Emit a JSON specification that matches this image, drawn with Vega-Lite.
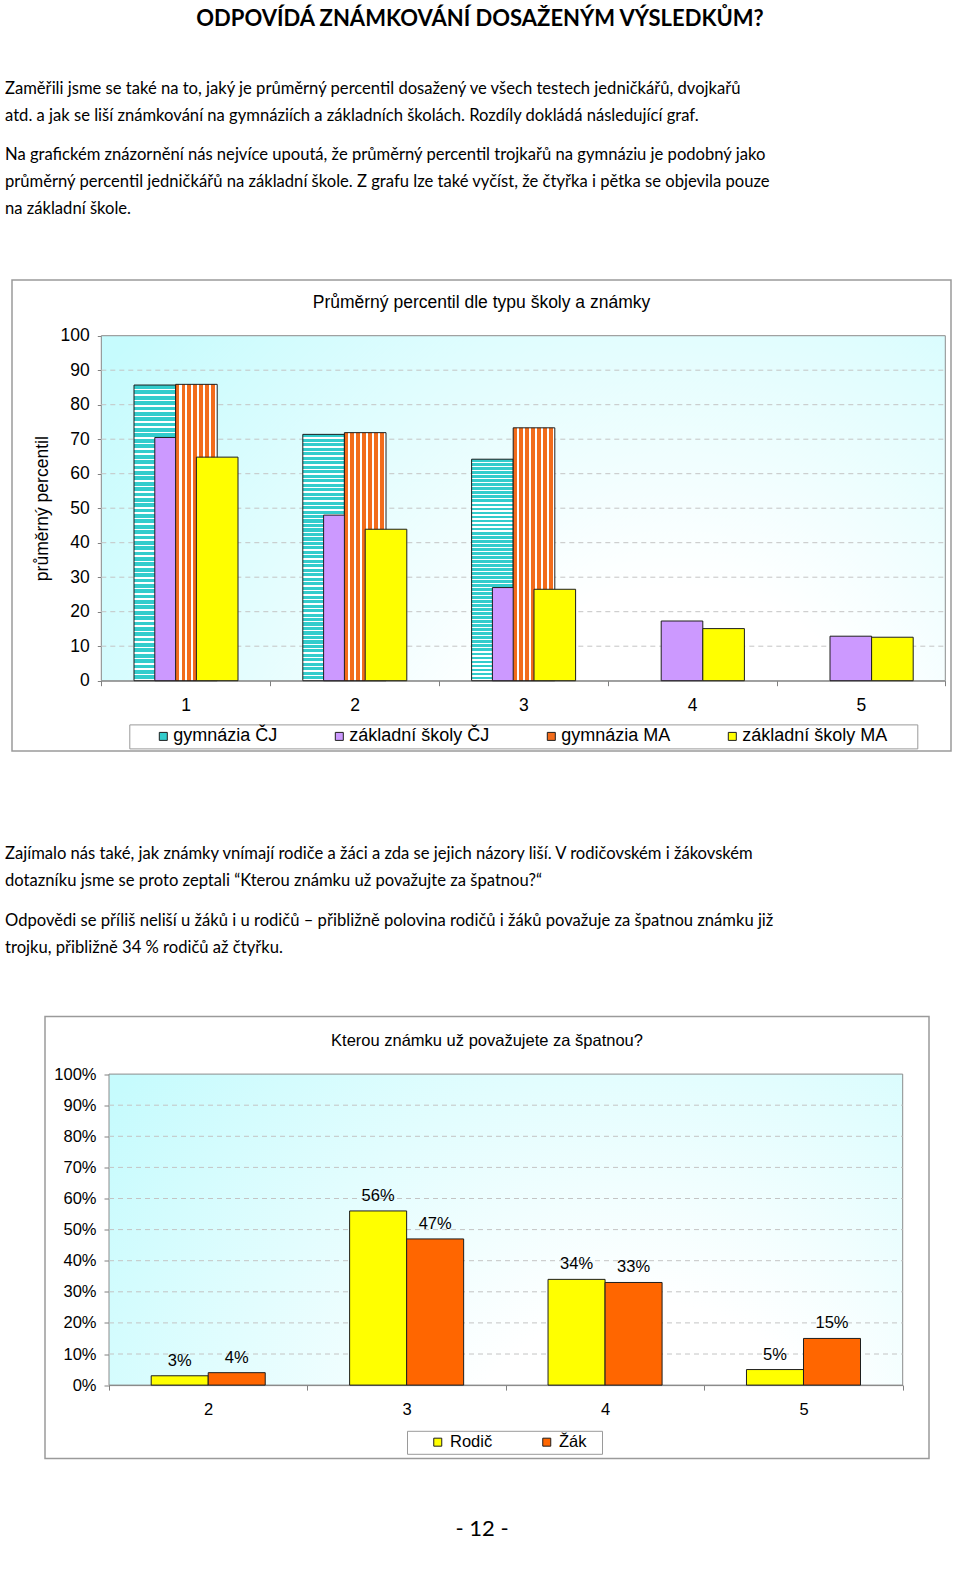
{
"$schema": "https://vega.github.io/schema/vega-lite/v6.json",
"background": "white",
"padding": {"left": 0, "right": 0, "top": 8, "bottom": 0},
"title": {"text": "ODPOVÍDÁ ZNÁMKOVÁNÍ DOSAŽENÝM VÝSLEDKŮM?", "font": "Lato", "fontSize": 22, "fontWeight": "bold", "color": "#000000", "anchor": "middle", "baseline": "top", "offset": 44},
"spacing": 12.5,
"resolve": {"scale": {"x": "independent", "y": "independent", "xOffset": "independent", "color": "independent"}, "axis": {"x": "independent", "y": "independent"}, "legend": {"color": "independent"}},
"vconcat": [
{"width": 960, "height": 54,
 "data": {"values": [
  {"i": 1, "t": "Zaměřili jsme se také na to, jaký je průměrný percentil dosažený ve všech testech jedničkářů, dvojkařů"},
  {"i": 2, "t": "atd. a jak se liší známkování na gymnáziích a základních školách. Rozdíly dokládá následující graf."}]},
 "mark": {"type": "text", "align": "left", "baseline": "middle", "font": "Lato", "fontSize": 16.6, "color": "#000000", "dx": 5},
 "encoding": {
  "x": {"datum": 0, "type": "quantitative", "scale": {"domain": [0, 1]}, "axis": null},
  "y": {"field": "i", "type": "ordinal", "axis": null, "scale": {"type": "band", "paddingInner": 0, "paddingOuter": 0, "align": 0}},
  "text": {"field": "t"}}},
{"width": 960, "height": 125,
 "data": {"values": [
  {"i": 1, "t": "Na grafickém znázornění nás nejvíce upoutá, že průměrný percentil trojkařů na gymnáziu je podobný jako"},
  {"i": 2, "t": "průměrný percentil jedničkářů na základní škole.  Z grafu lze také vyčíst, že čtyřka i pětka se objevila pouze"},
  {"i": 3, "t": "na základní škole."}]},
 "mark": {"type": "text", "align": "left", "baseline": "middle", "font": "Lato", "fontSize": 16.6, "color": "#000000", "dx": 5},
 "encoding": {
  "x": {"datum": 0, "type": "quantitative", "scale": {"domain": [0, 1]}, "axis": null},
  "y": {"field": "i", "type": "ordinal", "axis": null, "scale": {"type": "band", "paddingInner": 0, "paddingOuter": 0.8148, "align": 0}},
  "text": {"field": "t"}}},
{"spacing": 0, "bounds": "flush",
 "hconcat": [
  {"width": 11.7, "height": 548, "data": {"values": []}, "mark": "rect"},
  {"width": 939, "height": 471,
   "view": {"stroke": "#9a9a9a", "strokeWidth": 1.5},
   "title": {"text": "Průměrný percentil dle typu školy a známky", "font": "Liberation Sans", "fontSize": 17.5, "fontWeight": "normal", "color": "#000000", "anchor": "middle", "baseline": "middle", "offset": -40},
   "data": {"values": [
    {"g": 1, "s": "gymnázia ČJ", "v": 85.7}, {"g": 1, "s": "základní školy ČJ", "v": 70.5}, {"g": 1, "s": "gymnázia MA", "v": 85.9}, {"g": 1, "s": "základní školy MA", "v": 64.8},
    {"g": 2, "s": "gymnázia ČJ", "v": 71.4}, {"g": 2, "s": "základní školy ČJ", "v": 48.0}, {"g": 2, "s": "gymnázia MA", "v": 71.9}, {"g": 2, "s": "základní školy MA", "v": 43.9},
    {"g": 3, "s": "gymnázia ČJ", "v": 64.2}, {"g": 3, "s": "základní školy ČJ", "v": 27.0}, {"g": 3, "s": "gymnázia MA", "v": 73.3}, {"g": 3, "s": "základní školy MA", "v": 26.5},
    {"g": 4, "s": "základní školy ČJ", "v": 17.3}, {"g": 4, "s": "základní školy MA", "v": 15.1},
    {"g": 5, "s": "základní školy ČJ", "v": 12.9}, {"g": 5, "s": "základní školy MA", "v": 12.6}]},
   "layer": [
    {"data": {"values": [{}]},
     "mark": {"type": "rect", "stroke": "#8c8c8c", "strokeWidth": 1,
      "fill": {"gradient": "radial", "x1": 0.68, "y1": 0.85, "r1": 0, "x2": 0.68, "y2": 0.85, "r2": 0.85, "stops": [{"offset": 0, "color": "#ffffff"}, {"offset": 0.3, "color": "#ffffff"}, {"offset": 1, "color": "#c6fbfd"}]}},
     "encoding": {
      "x": {"datum": 0, "type": "quantitative", "scale": {"domain": [0, 1], "range": [89.3, 933.3]}, "axis": null},
      "x2": {"datum": 1},
      "y": {"datum": 0, "type": "quantitative", "scale": {"domain": [0, 100], "range": [400.7, 55.7], "nice": false},
       "axis": {"title": "průměrný percentil", "orient": "left", "offset": -89.3, "values": [0, 10, 20, 30, 40, 50, 60, 70, 80, 90, 100], "grid": false, "tickSize": 4, "tickColor": "#808080", "domainColor": "#808080", "labelFont": "Liberation Sans", "labelFontSize": 17.5, "labelColor": "#000000", "labelPadding": 8, "titleFont": "Liberation Sans", "titleFontSize": 17.5, "titleFontWeight": "normal", "titleColor": "#000000", "titlePadding": 9}},
      "y2": {"datum": 100}}},
    {"data": {"values": [{"t": 10}, {"t": 20}, {"t": 30}, {"t": 40}, {"t": 50}, {"t": 60}, {"t": 70}, {"t": 80}, {"t": 90}]},
     "mark": {"type": "rule", "color": "#c4c4c4", "strokeDash": [5, 4], "strokeWidth": 1},
     "encoding": {
      "x": {"datum": 0, "type": "quantitative", "scale": {"domain": [0, 1], "range": [89.3, 933.3]}, "axis": null},
      "x2": {"datum": 1},
      "y": {"field": "t", "type": "quantitative", "scale": {"domain": [0, 100], "range": [400.7, 55.7], "nice": false},
       "axis": {"title": "průměrný percentil", "orient": "left", "offset": -89.3, "values": [0, 10, 20, 30, 40, 50, 60, 70, 80, 90, 100], "grid": false, "tickSize": 4, "tickColor": "#808080", "domainColor": "#808080", "labelFont": "Liberation Sans", "labelFontSize": 17.5, "labelColor": "#000000", "labelPadding": 8, "titleFont": "Liberation Sans", "titleFontSize": 17.5, "titleFontWeight": "normal", "titleColor": "#000000", "titlePadding": 9}}}},
    {"encoding": {
      "x": {"field": "g", "type": "ordinal", "scale": {"domain": [1, 2, 3, 4, 5], "range": [89.3, 933.3], "paddingInner": 0, "paddingOuter": 0},
       "axis": {"title": null, "orient": "bottom", "offset": -70.3, "labelAngle": 0, "tickBand": "extent", "tickSize": 5, "tickColor": "#808080", "domainColor": "#808080", "labelFont": "Liberation Sans", "labelFontSize": 17.5, "labelColor": "#000000", "labelPadding": 11, "grid": false}},
      "xOffset": {"field": "s", "type": "nominal", "scale": {"domain": ["gymnázia ČJ", "základní školy ČJ", "gymnázia MA", "základní školy MA"], "range": [43.1, 126.3], "paddingInner": 0, "paddingOuter": 0}},
      "y": {"field": "v", "type": "quantitative", "stack": null, "scale": {"domain": [0, 100], "range": [400.7, 55.7], "nice": false},
       "axis": {"title": "průměrný percentil", "orient": "left", "offset": -89.3, "values": [0, 10, 20, 30, 40, 50, 60, 70, 80, 90, 100], "grid": false, "tickSize": 4, "tickColor": "#808080", "domainColor": "#808080", "labelFont": "Liberation Sans", "labelFontSize": 17.5, "labelColor": "#000000", "labelPadding": 8, "titleFont": "Liberation Sans", "titleFontSize": 17.5, "titleFontWeight": "normal", "titleColor": "#000000", "titlePadding": 9}}},
     "layer": [
      {"transform": [{"filter": {"field": "s", "equal": "gymnázia ČJ"}}],
       "mark": {"type": "bar", "width": 41.6, "stroke": "#1e1e1e", "strokeWidth": 1,
        "fill": {"gradient": "linear", "x1": 0, "y1": 0, "x2": 0, "y2": 1, "stops": [
{"offset":0,"color":"#33cccc"},{"offset":0.0127,"color":"#33cccc"},{"offset":0.0127,"color":"#ffffff"},{"offset":0.0182,"color":"#ffffff"},
{"offset":0.0182,"color":"#33cccc"},{"offset":0.0309,"color":"#33cccc"},{"offset":0.0309,"color":"#ffffff"},{"offset":0.0364,"color":"#ffffff"},
{"offset":0.0364,"color":"#33cccc"},{"offset":0.0491,"color":"#33cccc"},{"offset":0.0491,"color":"#ffffff"},{"offset":0.0545,"color":"#ffffff"},
{"offset":0.0545,"color":"#33cccc"},{"offset":0.0673,"color":"#33cccc"},{"offset":0.0673,"color":"#ffffff"},{"offset":0.0727,"color":"#ffffff"},
{"offset":0.0727,"color":"#33cccc"},{"offset":0.0855,"color":"#33cccc"},{"offset":0.0855,"color":"#ffffff"},{"offset":0.0909,"color":"#ffffff"},
{"offset":0.0909,"color":"#33cccc"},{"offset":0.1036,"color":"#33cccc"},{"offset":0.1036,"color":"#ffffff"},{"offset":0.1091,"color":"#ffffff"},
{"offset":0.1091,"color":"#33cccc"},{"offset":0.1218,"color":"#33cccc"},{"offset":0.1218,"color":"#ffffff"},{"offset":0.1273,"color":"#ffffff"},
{"offset":0.1273,"color":"#33cccc"},{"offset":0.14,"color":"#33cccc"},{"offset":0.14,"color":"#ffffff"},{"offset":0.1455,"color":"#ffffff"},
{"offset":0.1455,"color":"#33cccc"},{"offset":0.1582,"color":"#33cccc"},{"offset":0.1582,"color":"#ffffff"},{"offset":0.1636,"color":"#ffffff"},
{"offset":0.1636,"color":"#33cccc"},{"offset":0.1764,"color":"#33cccc"},{"offset":0.1764,"color":"#ffffff"},{"offset":0.1818,"color":"#ffffff"},
{"offset":0.1818,"color":"#33cccc"},{"offset":0.1945,"color":"#33cccc"},{"offset":0.1945,"color":"#ffffff"},{"offset":0.2,"color":"#ffffff"},
{"offset":0.2,"color":"#33cccc"},{"offset":0.2127,"color":"#33cccc"},{"offset":0.2127,"color":"#ffffff"},{"offset":0.2182,"color":"#ffffff"},
{"offset":0.2182,"color":"#33cccc"},{"offset":0.2309,"color":"#33cccc"},{"offset":0.2309,"color":"#ffffff"},{"offset":0.2364,"color":"#ffffff"},
{"offset":0.2364,"color":"#33cccc"},{"offset":0.2491,"color":"#33cccc"},{"offset":0.2491,"color":"#ffffff"},{"offset":0.2545,"color":"#ffffff"},
{"offset":0.2545,"color":"#33cccc"},{"offset":0.2673,"color":"#33cccc"},{"offset":0.2673,"color":"#ffffff"},{"offset":0.2727,"color":"#ffffff"},
{"offset":0.2727,"color":"#33cccc"},{"offset":0.2855,"color":"#33cccc"},{"offset":0.2855,"color":"#ffffff"},{"offset":0.2909,"color":"#ffffff"},
{"offset":0.2909,"color":"#33cccc"},{"offset":0.3036,"color":"#33cccc"},{"offset":0.3036,"color":"#ffffff"},{"offset":0.3091,"color":"#ffffff"},
{"offset":0.3091,"color":"#33cccc"},{"offset":0.3218,"color":"#33cccc"},{"offset":0.3218,"color":"#ffffff"},{"offset":0.3273,"color":"#ffffff"},
{"offset":0.3273,"color":"#33cccc"},{"offset":0.34,"color":"#33cccc"},{"offset":0.34,"color":"#ffffff"},{"offset":0.3455,"color":"#ffffff"},
{"offset":0.3455,"color":"#33cccc"},{"offset":0.3582,"color":"#33cccc"},{"offset":0.3582,"color":"#ffffff"},{"offset":0.3636,"color":"#ffffff"},
{"offset":0.3636,"color":"#33cccc"},{"offset":0.3764,"color":"#33cccc"},{"offset":0.3764,"color":"#ffffff"},{"offset":0.3818,"color":"#ffffff"},
{"offset":0.3818,"color":"#33cccc"},{"offset":0.3945,"color":"#33cccc"},{"offset":0.3945,"color":"#ffffff"},{"offset":0.4,"color":"#ffffff"},
{"offset":0.4,"color":"#33cccc"},{"offset":0.4127,"color":"#33cccc"},{"offset":0.4127,"color":"#ffffff"},{"offset":0.4182,"color":"#ffffff"},
{"offset":0.4182,"color":"#33cccc"},{"offset":0.4309,"color":"#33cccc"},{"offset":0.4309,"color":"#ffffff"},{"offset":0.4364,"color":"#ffffff"},
{"offset":0.4364,"color":"#33cccc"},{"offset":0.4491,"color":"#33cccc"},{"offset":0.4491,"color":"#ffffff"},{"offset":0.4545,"color":"#ffffff"},
{"offset":0.4545,"color":"#33cccc"},{"offset":0.4673,"color":"#33cccc"},{"offset":0.4673,"color":"#ffffff"},{"offset":0.4727,"color":"#ffffff"},
{"offset":0.4727,"color":"#33cccc"},{"offset":0.4855,"color":"#33cccc"},{"offset":0.4855,"color":"#ffffff"},{"offset":0.4909,"color":"#ffffff"},
{"offset":0.4909,"color":"#33cccc"},{"offset":0.5036,"color":"#33cccc"},{"offset":0.5036,"color":"#ffffff"},{"offset":0.5091,"color":"#ffffff"},
{"offset":0.5091,"color":"#33cccc"},{"offset":0.5218,"color":"#33cccc"},{"offset":0.5218,"color":"#ffffff"},{"offset":0.5273,"color":"#ffffff"},
{"offset":0.5273,"color":"#33cccc"},{"offset":0.54,"color":"#33cccc"},{"offset":0.54,"color":"#ffffff"},{"offset":0.5455,"color":"#ffffff"},
{"offset":0.5455,"color":"#33cccc"},{"offset":0.5582,"color":"#33cccc"},{"offset":0.5582,"color":"#ffffff"},{"offset":0.5636,"color":"#ffffff"},
{"offset":0.5636,"color":"#33cccc"},{"offset":0.5764,"color":"#33cccc"},{"offset":0.5764,"color":"#ffffff"},{"offset":0.5818,"color":"#ffffff"},
{"offset":0.5818,"color":"#33cccc"},{"offset":0.5945,"color":"#33cccc"},{"offset":0.5945,"color":"#ffffff"},{"offset":0.6,"color":"#ffffff"},
{"offset":0.6,"color":"#33cccc"},{"offset":0.6127,"color":"#33cccc"},{"offset":0.6127,"color":"#ffffff"},{"offset":0.6182,"color":"#ffffff"},
{"offset":0.6182,"color":"#33cccc"},{"offset":0.6309,"color":"#33cccc"},{"offset":0.6309,"color":"#ffffff"},{"offset":0.6364,"color":"#ffffff"},
{"offset":0.6364,"color":"#33cccc"},{"offset":0.6491,"color":"#33cccc"},{"offset":0.6491,"color":"#ffffff"},{"offset":0.6545,"color":"#ffffff"},
{"offset":0.6545,"color":"#33cccc"},{"offset":0.6673,"color":"#33cccc"},{"offset":0.6673,"color":"#ffffff"},{"offset":0.6727,"color":"#ffffff"},
{"offset":0.6727,"color":"#33cccc"},{"offset":0.6855,"color":"#33cccc"},{"offset":0.6855,"color":"#ffffff"},{"offset":0.6909,"color":"#ffffff"},
{"offset":0.6909,"color":"#33cccc"},{"offset":0.7036,"color":"#33cccc"},{"offset":0.7036,"color":"#ffffff"},{"offset":0.7091,"color":"#ffffff"},
{"offset":0.7091,"color":"#33cccc"},{"offset":0.7218,"color":"#33cccc"},{"offset":0.7218,"color":"#ffffff"},{"offset":0.7273,"color":"#ffffff"},
{"offset":0.7273,"color":"#33cccc"},{"offset":0.74,"color":"#33cccc"},{"offset":0.74,"color":"#ffffff"},{"offset":0.7455,"color":"#ffffff"},
{"offset":0.7455,"color":"#33cccc"},{"offset":0.7582,"color":"#33cccc"},{"offset":0.7582,"color":"#ffffff"},{"offset":0.7636,"color":"#ffffff"},
{"offset":0.7636,"color":"#33cccc"},{"offset":0.7764,"color":"#33cccc"},{"offset":0.7764,"color":"#ffffff"},{"offset":0.7818,"color":"#ffffff"},
{"offset":0.7818,"color":"#33cccc"},{"offset":0.7945,"color":"#33cccc"},{"offset":0.7945,"color":"#ffffff"},{"offset":0.8,"color":"#ffffff"},
{"offset":0.8,"color":"#33cccc"},{"offset":0.8127,"color":"#33cccc"},{"offset":0.8127,"color":"#ffffff"},{"offset":0.8182,"color":"#ffffff"},
{"offset":0.8182,"color":"#33cccc"},{"offset":0.8309,"color":"#33cccc"},{"offset":0.8309,"color":"#ffffff"},{"offset":0.8364,"color":"#ffffff"},
{"offset":0.8364,"color":"#33cccc"},{"offset":0.8491,"color":"#33cccc"},{"offset":0.8491,"color":"#ffffff"},{"offset":0.8545,"color":"#ffffff"},
{"offset":0.8545,"color":"#33cccc"},{"offset":0.8673,"color":"#33cccc"},{"offset":0.8673,"color":"#ffffff"},{"offset":0.8727,"color":"#ffffff"},
{"offset":0.8727,"color":"#33cccc"},{"offset":0.8855,"color":"#33cccc"},{"offset":0.8855,"color":"#ffffff"},{"offset":0.8909,"color":"#ffffff"},
{"offset":0.8909,"color":"#33cccc"},{"offset":0.9036,"color":"#33cccc"},{"offset":0.9036,"color":"#ffffff"},{"offset":0.9091,"color":"#ffffff"},
{"offset":0.9091,"color":"#33cccc"},{"offset":0.9218,"color":"#33cccc"},{"offset":0.9218,"color":"#ffffff"},{"offset":0.9273,"color":"#ffffff"},
{"offset":0.9273,"color":"#33cccc"},{"offset":0.94,"color":"#33cccc"},{"offset":0.94,"color":"#ffffff"},{"offset":0.9455,"color":"#ffffff"},
{"offset":0.9455,"color":"#33cccc"},{"offset":0.9582,"color":"#33cccc"},{"offset":0.9582,"color":"#ffffff"},{"offset":0.9636,"color":"#ffffff"},
{"offset":0.9636,"color":"#33cccc"},{"offset":0.9764,"color":"#33cccc"},{"offset":0.9764,"color":"#ffffff"},{"offset":0.9818,"color":"#ffffff"},
{"offset":0.9818,"color":"#33cccc"},{"offset":0.9945,"color":"#33cccc"},{"offset":0.9945,"color":"#ffffff"},{"offset":1,"color":"#ffffff"}
        ]}}},
      {"transform": [{"filter": {"field": "s", "equal": "základní školy ČJ"}}],
       "mark": {"type": "bar", "width": 41.6, "stroke": "#1e1e1e", "strokeWidth": 1},
       "encoding": {"color": {"field": "s", "type": "nominal",
        "scale": {"domain": ["gymnázia ČJ", "základní školy ČJ", "gymnázia MA", "základní školy MA"], "range": ["#33cccc", "#cc99ff", "#f26c1c", "#ffff00"]},
        "legend": {"orient": "none", "legendX": 129.3, "legendY": 444.4, "direction": "horizontal", "title": "\u00a0", "titleOrient": "left", "titlePadding": 22, "symbolType": "square", "symbolSize": 64, "symbolStrokeColor": "#1e1e1e", "symbolStrokeWidth": 1, "symbolOpacity": 1, "labelFont": "Liberation Sans", "labelFontSize": 18, "labelColor": "#000000", "labelOffset": 1, "labelLimit": 300, "columnPadding": 52, "padding": 3, "strokeColor": "#9a9a9a", "fillColor": "#ffffff", "labelExpr": "datum.value == 'základní školy MA' ? datum.label + '\u2800\u2800' : datum.label"}}}},
      {"transform": [{"filter": {"field": "s", "equal": "gymnázia MA"}}],
       "mark": {"type": "bar", "width": 41.6, "stroke": "#1e1e1e", "strokeWidth": 1,
        "fill": {"gradient": "linear", "x1": 0, "y1": 0, "x2": 1, "y2": 0, "stops": [
{"offset":0,"color":"#f26c1c"},{"offset":0.0886,"color":"#f26c1c"},{"offset":0.0886,"color":"#ffffff"},{"offset":0.1429,"color":"#ffffff"},
{"offset":0.1429,"color":"#f26c1c"},{"offset":0.2314,"color":"#f26c1c"},{"offset":0.2314,"color":"#ffffff"},{"offset":0.2857,"color":"#ffffff"},
{"offset":0.2857,"color":"#f26c1c"},{"offset":0.3743,"color":"#f26c1c"},{"offset":0.3743,"color":"#ffffff"},{"offset":0.4286,"color":"#ffffff"},
{"offset":0.4286,"color":"#f26c1c"},{"offset":0.5171,"color":"#f26c1c"},{"offset":0.5171,"color":"#ffffff"},{"offset":0.5714,"color":"#ffffff"},
{"offset":0.5714,"color":"#f26c1c"},{"offset":0.66,"color":"#f26c1c"},{"offset":0.66,"color":"#ffffff"},{"offset":0.7143,"color":"#ffffff"},
{"offset":0.7143,"color":"#f26c1c"},{"offset":0.8029,"color":"#f26c1c"},{"offset":0.8029,"color":"#ffffff"},{"offset":0.8571,"color":"#ffffff"},
{"offset":0.8571,"color":"#f26c1c"},{"offset":0.9457,"color":"#f26c1c"},{"offset":0.9457,"color":"#ffffff"},{"offset":1,"color":"#ffffff"}
        ]}}},
      {"transform": [{"filter": {"field": "s", "equal": "základní školy MA"}}],
       "mark": {"type": "bar", "width": 41.6, "stroke": "#1e1e1e", "strokeWidth": 1},
       "encoding": {"color": {"field": "s", "type": "nominal",
        "scale": {"domain": ["gymnázia ČJ", "základní školy ČJ", "gymnázia MA", "základní školy MA"], "range": ["#33cccc", "#cc99ff", "#f26c1c", "#ffff00"]},
        "legend": {"orient": "none", "legendX": 129.3, "legendY": 444.4, "direction": "horizontal", "title": "\u00a0", "titleOrient": "left", "titlePadding": 22, "symbolType": "square", "symbolSize": 64, "symbolStrokeColor": "#1e1e1e", "symbolStrokeWidth": 1, "symbolOpacity": 1, "labelFont": "Liberation Sans", "labelFontSize": 18, "labelColor": "#000000", "labelOffset": 1, "labelLimit": 300, "columnPadding": 52, "padding": 3, "strokeColor": "#9a9a9a", "fillColor": "#ffffff", "labelExpr": "datum.value == 'základní školy MA' ? datum.label + '\u2800\u2800' : datum.label"}}}}
     ]}
   ],
   "resolve": {"scale": {"x": "independent"}}
  }
 ]},
{"width": 960, "height": 54,
 "data": {"values": [
  {"i": 1, "t": "Zajímalo nás také, jak známky vnímají rodiče a žáci a zda se jejich názory liší. V rodičovském i žákovském"},
  {"i": 2, "t": "dotazníku jsme se proto zeptali “Kterou známku už považujte za špatnou?“"}]},
 "mark": {"type": "text", "align": "left", "baseline": "middle", "font": "Lato", "fontSize": 16.6, "color": "#000000", "dx": 5},
 "encoding": {
  "x": {"datum": 0, "type": "quantitative", "scale": {"domain": [0, 1]}, "axis": null},
  "y": {"field": "i", "type": "ordinal", "axis": null, "scale": {"type": "band", "paddingInner": 0, "paddingOuter": 0, "align": 0}},
  "text": {"field": "t"}}},
{"width": 960, "height": 95.7,
 "data": {"values": [
  {"i": 1, "t": "Odpovědi se příliš neliší u žáků i u rodičů – přibližně polovina rodičů i žáků považuje za špatnou známku již"},
  {"i": 2, "t": "trojku, přibližně 34 % rodičů až čtyřku."}]},
 "mark": {"type": "text", "align": "left", "baseline": "middle", "font": "Lato", "fontSize": 16.6, "color": "#000000", "dx": 5},
 "encoding": {
  "x": {"datum": 0, "type": "quantitative", "scale": {"domain": [0, 1]}, "axis": null},
  "y": {"field": "i", "type": "ordinal", "axis": null, "scale": {"type": "band", "paddingInner": 0, "paddingOuter": 0.772, "align": 0}},
  "text": {"field": "t"}}},
{"spacing": 0, "bounds": "flush",
 "hconcat": [
  {"width": 44.3, "height": 442, "data": {"values": []}, "mark": "rect"},
  {"width": 884, "height": 442,
   "view": {"stroke": "#9a9a9a", "strokeWidth": 1.5},
   "title": {"text": "Kterou známku už považujete za špatnou?", "font": "Liberation Sans", "fontSize": 16.5, "fontWeight": "normal", "color": "#000000", "anchor": "middle", "baseline": "middle", "offset": -41},
   "data": {"values": [
    {"g": 2, "s": "Rodič", "p": 0.03}, {"g": 2, "s": "Žák", "p": 0.04},
    {"g": 3, "s": "Rodič", "p": 0.56}, {"g": 3, "s": "Žák", "p": 0.47},
    {"g": 4, "s": "Rodič", "p": 0.34}, {"g": 4, "s": "Žák", "p": 0.33},
    {"g": 5, "s": "Rodič", "p": 0.05}, {"g": 5, "s": "Žák", "p": 0.15}]},
   "layer": [
    {"data": {"values": [{}]},
     "mark": {"type": "rect", "stroke": "#8c8c8c", "strokeWidth": 1,
      "fill": {"gradient": "radial", "x1": 0.68, "y1": 0.85, "r1": 0, "x2": 0.68, "y2": 0.85, "r2": 0.85, "stops": [{"offset": 0, "color": "#ffffff"}, {"offset": 0.3, "color": "#ffffff"}, {"offset": 1, "color": "#c6fbfd"}]}},
     "encoding": {
      "x": {"datum": 0, "type": "quantitative", "scale": {"domain": [0, 1], "range": [64, 857.7]}, "axis": null},
      "x2": {"datum": 1},
      "y": {"datum": 0, "type": "quantitative", "scale": {"domain": [0, 1], "range": [368.6, 57.6], "nice": false},
       "axis": {"title": null, "orient": "left", "offset": -64, "values": [0, 0.1, 0.2, 0.3, 0.4, 0.5, 0.6, 0.7, 0.8, 0.9, 1], "format": ".0%", "grid": false, "tickSize": 5, "tickColor": "#808080", "domainColor": "#808080", "labelFont": "Liberation Sans", "labelFontSize": 16.5, "labelColor": "#000000", "labelPadding": 8}},
      "y2": {"datum": 1}}},
    {"data": {"values": [{"t": 0.1}, {"t": 0.2}, {"t": 0.3}, {"t": 0.4}, {"t": 0.5}, {"t": 0.6}, {"t": 0.7}, {"t": 0.8}, {"t": 0.9}]},
     "mark": {"type": "rule", "color": "#c4c4c4", "strokeDash": [5, 4], "strokeWidth": 1},
     "encoding": {
      "x": {"datum": 0, "type": "quantitative", "scale": {"domain": [0, 1], "range": [64, 857.7]}, "axis": null},
      "x2": {"datum": 1},
      "y": {"field": "t", "type": "quantitative", "scale": {"domain": [0, 1], "range": [368.6, 57.6], "nice": false},
       "axis": {"title": null, "orient": "left", "offset": -64, "values": [0, 0.1, 0.2, 0.3, 0.4, 0.5, 0.6, 0.7, 0.8, 0.9, 1], "format": ".0%", "grid": false, "tickSize": 5, "tickColor": "#808080", "domainColor": "#808080", "labelFont": "Liberation Sans", "labelFontSize": 16.5, "labelColor": "#000000", "labelPadding": 8}}}},
    {"encoding": {
      "x": {"field": "g", "type": "ordinal", "scale": {"domain": [2, 3, 4, 5], "range": [64, 857.7], "paddingInner": 0, "paddingOuter": 0},
       "axis": {"title": null, "orient": "bottom", "offset": -73.4, "labelAngle": 0, "tickBand": "extent", "tickSize": 5, "tickColor": "#808080", "domainColor": "#808080", "labelFont": "Liberation Sans", "labelFontSize": 16.5, "labelColor": "#000000", "labelPadding": 11, "grid": false}},
      "xOffset": {"field": "s", "type": "nominal", "scale": {"domain": ["Rodič", "Žák"], "paddingInner": 0, "paddingOuter": 0.74}},
      "y": {"field": "p", "type": "quantitative", "stack": null, "scale": {"domain": [0, 1], "range": [368.6, 57.6], "nice": false},
       "axis": {"title": null, "orient": "left", "offset": -64, "values": [0, 0.1, 0.2, 0.3, 0.4, 0.5, 0.6, 0.7, 0.8, 0.9, 1], "format": ".0%", "grid": false, "tickSize": 5, "tickColor": "#808080", "domainColor": "#808080", "labelFont": "Liberation Sans", "labelFontSize": 16.5, "labelColor": "#000000", "labelPadding": 8}}},
     "layer": [
      {"mark": {"type": "bar", "stroke": "#1e1e1e", "strokeWidth": 1},
       "encoding": {"color": {"field": "s", "type": "nominal", "scale": {"domain": ["Rodič", "Žák"], "range": ["#ffff00", "#ff6600"]},
        "legend": {"orient": "none", "legendX": 407, "legendY": 414.3, "direction": "horizontal", "title": "\u00a0", "titleOrient": "left", "titlePadding": 19.5, "symbolType": "square", "symbolSize": 64, "symbolStrokeColor": "#1e1e1e", "symbolStrokeWidth": 1, "symbolOpacity": 1, "labelFont": "Liberation Sans", "labelFontSize": 16.5, "labelColor": "#000000", "labelOffset": 4, "labelLimit": 300, "columnPadding": 46, "padding": 3, "strokeColor": "#9a9a9a", "fillColor": "#ffffff", "labelExpr": "datum.value == 'Žák' ? datum.label + '\u2800' : datum.label"}}}},
      {"mark": {"type": "text", "dy": -15, "baseline": "middle", "font": "Liberation Sans", "fontSize": 16.5, "color": "#000000"},
       "encoding": {"text": {"field": "p", "type": "quantitative", "format": ".0%"}}}
     ]}
   ],
   "resolve": {"scale": {"x": "independent"}}
  }
 ]},
{"width": 960, "height": 113.6,
 "data": {"values": [{"t": "- 12 -"}]},
 "mark": {"type": "text", "font": "Lato", "fontSize": 22, "color": "#000000", "baseline": "middle", "dx": 2},
 "encoding": {"text": {"field": "t"}}}
],
"config": {
 "view": {"stroke": null},
 "axis": {"labelColor": "#000000", "titleColor": "#000000"},
 "legend": {"labelColor": "#000000"},
 "title": {"color": "#000000"}
}
}
